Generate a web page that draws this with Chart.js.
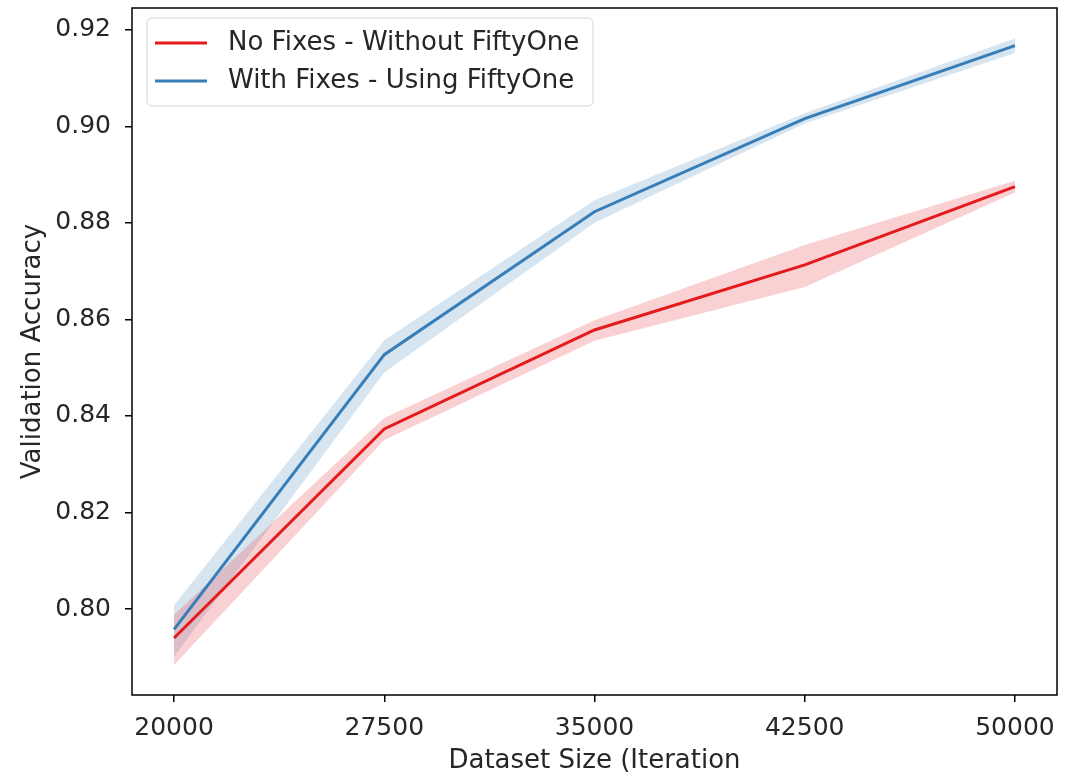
<!DOCTYPE html>
<html>
<head>
<meta charset="utf-8">
<script src="https://cdn.jsdelivr.net/npm/chart.js@4/dist/chart.umd.min.js"></script>
<style>
  html, body { margin: 0; padding: 0; background: #fff; }
  #wrap { width: 1079px; height: 774px; }
</style>
</head>
<body>
<div id="wrap"><canvas id="lineChart" width="1079" height="774"></canvas></div>
<script>
// dataset sizes on the x axis
const sizes = [20000, 27500, 35000, 42500, 50000];

// No Fixes - Without FiftyOne (mean and band)
const noFixMean = [0.7940, 0.8373, 0.8578, 0.8713, 0.8875];
const noFixLow  = [0.7884, 0.8350, 0.8556, 0.8667, 0.8863];
const noFixHigh = [0.7988, 0.8396, 0.8598, 0.8754, 0.8887];

// With Fixes - Using FiftyOne (mean and band)
const fixMean = [0.7958, 0.8527, 0.8823, 0.9016, 0.9167];
const fixLow  = [0.7902, 0.8490, 0.8800, 0.9006, 0.9152];
const fixHigh = [0.8008, 0.8557, 0.8847, 0.9027, 0.9182];

const xTicks = [20000, 27500, 35000, 42500, 50000];
const yTicks = [0.80, 0.82, 0.84, 0.86, 0.88, 0.90, 0.92];

const seriesNames = ['No Fixes - Without FiftyOne', 'With Fixes - Using FiftyOne'];
const RED = '#e41a1c';
const BLUE = '#377eb8';
const FONT = 'DejaVu Sans';

const pts = (ys) => sizes.map((x, i) => ({ x: x, y: ys[i] }));

const band = (ys, color, fill) => ({
    data: pts(ys),
    borderWidth: 0,
    pointRadius: 0,
    backgroundColor: color,
    fill: fill,
    order: 2
});

// matplotlib-ish frame + legend box inside the axes
const framePlugin = {
    id: 'frame',
    afterDraw(chart) {
        const { ctx, chartArea: a } = chart;
        ctx.save();
        ctx.strokeStyle = '#000';
        ctx.lineWidth = 1.5;
        ctx.strokeRect(a.left, a.top, a.right - a.left, a.bottom - a.top);

        // legend
        const bx = 147, by = 18, bw = 446, bh = 88, r = 5;
        ctx.beginPath();
        ctx.moveTo(bx + r, by);
        ctx.arcTo(bx + bw, by, bx + bw, by + bh, r);
        ctx.arcTo(bx + bw, by + bh, bx, by + bh, r);
        ctx.arcTo(bx, by + bh, bx, by, r);
        ctx.arcTo(bx, by, bx + bw, by, r);
        ctx.closePath();
        ctx.fillStyle = 'rgba(255,255,255,0.8)';
        ctx.fill();
        ctx.strokeStyle = '#d5d5d5';
        ctx.lineWidth = 1;
        ctx.stroke();

        const rows = [[seriesNames[0], RED, 43], [seriesNames[1], BLUE, 81]];
        ctx.font = '26px "' + FONT + '"';
        ctx.textBaseline = 'middle';
        rows.forEach(([label, color, y]) => {
            ctx.strokeStyle = color;
            ctx.lineWidth = 3;
            ctx.beginPath();
            ctx.moveTo(155, y);
            ctx.lineTo(207, y);
            ctx.stroke();
            ctx.fillStyle = '#262626';
            ctx.fillText(label, 228, y);
        });
        ctx.restore();
    }
};

const ctx = document.getElementById('lineChart').getContext('2d');
new Chart(ctx, {
    type: 'line',
    data: {
        datasets: [
            band(noFixHigh, 'rgba(228,26,28,0.2)', '+1'),
            band(noFixLow, 'rgba(228,26,28,0.2)', false),
            band(fixHigh, 'rgba(55,126,184,0.2)', '+1'),
            band(fixLow, 'rgba(55,126,184,0.2)', false),
            {
                label: seriesNames[0],
                data: pts(noFixMean),
                borderColor: RED,
                borderWidth: 3,
                pointRadius: 0,
                fill: false,
                order: 1
            },
            {
                label: seriesNames[1],
                data: pts(fixMean),
                borderColor: BLUE,
                borderWidth: 3,
                pointRadius: 0,
                fill: false,
                order: 0
            }
        ]
    },
    options: {
        responsive: false,
        animation: false,
        layout: { padding: { top: 8, right: 22, left: 0, bottom: 0 } },
        plugins: {
            legend: { display: false },
            tooltip: { enabled: false }
        },
        scales: {
            x: {
                type: 'linear',
                min: 18500,
                max: 51500,
                afterBuildTicks: (s) => { s.ticks = xTicks.map(v => ({ value: v })); },
                afterFit: (s) => { s.height = 79; s.paddingLeft = 0; s.paddingRight = 0; },
                grid: { drawOnChartArea: false, drawTicks: true, tickLength: 7, color: '#000', lineWidth: 1.5 },
                border: { display: false },
                ticks: {
                    color: '#262626',
                    font: { family: FONT, size: 25 },
                    padding: 11,
                    maxRotation: 0,
                    callback: (v) => String(v)
                },
                title: {
                    display: true,
                    text: 'Dataset Size (Iteration',
                    color: '#262626',
                    font: { family: FONT, size: 26, lineHeight: 1 },
                    padding: { top: 0, bottom: 0 }
                }
            },
            y: {
                min: 0.7822,
                max: 0.9245,
                afterBuildTicks: (s) => { s.ticks = yTicks.map(v => ({ value: v })); },
                afterFit: (s) => { s.width = 132; s.paddingTop = 0; s.paddingBottom = 0; },
                grid: { drawOnChartArea: false, drawTicks: true, tickLength: 7, color: '#000', lineWidth: 1.5 },
                border: { display: false },
                ticks: {
                    color: '#262626',
                    font: { family: FONT, size: 25 },
                    padding: 14,
                    callback: (v) => v.toFixed(2)
                },
                title: {
                    display: true,
                    text: 'Validation Accuracy',
                    color: '#262626',
                    font: { family: FONT, size: 26, lineHeight: 1 },
                    padding: { top: 20, bottom: 0 }
                }
            }
        }
    },
    plugins: [framePlugin]
});
</script>
</body>
</html>
